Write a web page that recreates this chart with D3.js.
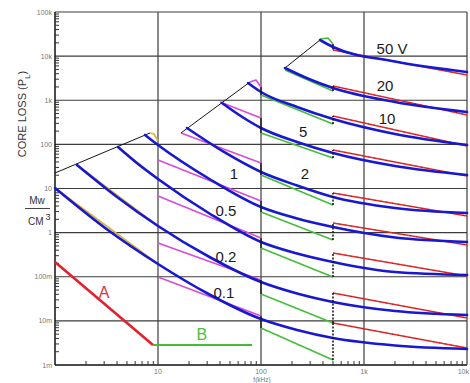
<!DOCTYPE html>
<html>
<head>
<meta charset="utf-8">
<script src="https://cdn.jsdelivr.net/npm/d3@7/dist/d3.min.js"></script>
<style>
  html, body { margin: 0; padding: 0; background: #fff; }
  svg { display: block; }
</style>
</head>
<body>
<div id="chart"></div>
<script>
// 坐标轴刻度
const yTickValues = [1e-3, 1e-2, 1e-1, 1, 10, 100, 1e3, 1e4, 1e5];
const yTickLabels = ["1m", "10m", "100m", "1", "10", "100", "1k", "10k", "100k"];
const xTickValues = [10, 100, 1000, 10000];
const xTickLabels = ["10", "100", "1k", "10k"];

// 电压 (顺序与下面各数组一致)
const voltages = ["0.1", "0.2", "0.5", "1", "2", "5", "10", "20", "50 V"];

// 计算曲线 (蓝色) [f kHz, P mW/cm3]
const blue01 = [[1, 10.26], [3.16, 1.208], [10, 0.1945], [31.6, 0.0396], [100, 0.0110], [224, 0.00621], [500, 0.00409], [2000, 0.00277], [10000, 0.00231]];
const blue02 = [[1.635, 34.09], [4.0, 6.419], [10, 1.413], [31.6, 0.2803], [100, 0.0760], [224, 0.0417], [500, 0.0268], [2000, 0.0167], [10000, 0.0136]];
const blue05 = [[4.09, 87.2], [6.32, 36.87], [10, 16.42], [31.6, 2.713], [100, 0.6131], [224, 0.3363], [500, 0.2159], [2000, 0.1281], [10000, 0.1096]];
const blue1 = [[7.48, 163.1], [10, 96.8], [31.6, 16.42], [100, 3.808], [224, 2.090], [500, 1.341], [2000, 0.7752], [10000, 0.6131]];
const blue2 = [[19.1, 235.0], [43.7, 67.2], [100, 23.65], [224, 11.70], [500, 6.419], [2000, 3.614], [10000, 2.785]];
const blue5 = [[41.8, 866.6], [64.7, 428.3], [100, 235.0], [224, 113.2], [500, 63.75], [2000, 32.35], [10000, 20.23]];
const blue10 = [[74.8, 2460], [100, 1538], [224, 703.1], [500, 375.9], [2000, 171.9], [10000, 96.8]];
const blue20 = [[171, 5383], [292, 3031], [500, 1895], [2000, 912.6], [10000, 541.7]];
const blue50 = [[374, 23200], [500, 16100], [2000, 7553], [10000, 4368]];
const blueCurves = [blue01, blue02, blue05, blue1, blue2, blue5, blue10, blue20, blue50];

// 实测数据: 1-10 kHz (黄), 10-100 kHz (品红), 100-500 kHz (绿), 500 kHz-10 MHz (红)
const yellowLines = [
    [[1, 10.26], [10, 0.1945]],
    [[1.635, 34.09], [10, 1.413]],
    [[4.09, 87.2], [10, 16.42]],
    [[8.36, 181.1], [9.15, 171.9], [10, 119.3]],
    null, null, null, null, null
];
const magentaLines = [
    [[10, 0.0987], [100, 0.0129]],
    [[10, 0.582], [100, 0.0844]],
    [[10, 6.761], [100, 0.7552]],
    [[10, 44.25], [100, 5.210]],
    [[16.7, 181.1], [100, 37.84]],
    [[40, 912.6], [100, 396.0]],
    [[78.2, 2592], [89.4, 2876], [100, 1997]],
    null, null
];
const greenLines = [
    [[100, 0.00689], [500, 0.00130]],
    [[100, 0.0406], [500, 0.00895]],
    [[100, 0.4482], [500, 0.0987]],
    [[100, 2.934], [500, 0.6808]],
    [[100, 20.23], [500, 4.228]],
    [[100, 181.1], [500, 49.12]],
    [[100, 1315], [500, 289.6]],
    [[171, 4849], [500, 1620]],
    [[374, 24440], [447, 25750], [500, 18830]]
];
const redLines = [
    [[500, 0.00895], [10000, 0.00243]],
    [[500, 0.0428], [10000, 0.0116]],
    [[500, 0.3452], [10000, 0.1040]],
    [[500, 1.652], [10000, 0.5242]],
    [[500, 7.907], [10000, 2.381]],
    [[500, 74.6], [10000, 19.20]],
    [[500, 439.7], [10000, 91.9]],
    [[500, 2103], [10000, 463.2]],
    [[500, 13770], [10000, 3735]]
];

// 最大损耗包络线
const envelopeLines = [
    [[1, 22.46], [8.36, 181.1]],
    [[16.7, 181.1], [78.2, 2592]],
    [[171, 5383], [374, 23200]]
];

// A / B 参考线
const lineA = [[1, 0.216], [8.94, 0.00284]];
const lineB = [[8.94, 0.00284], [81.8, 0.00284]];

// 曲线标注的锚点 [f, P]
const labelAnchors = [[43.7, 0.0451], [45.7, 0.288], [45.7, 3.256], [54.7, 21.5], [267, 21.5], [256, 190.8], [1672, 396], [1600, 2110], [1871, 15200]];
const letterLabels = ["A", "B"];
const letterAnchors = [[2.99, 0.0451], [26.7, 0.00504]];

const width = 470, height = 383;
const font = "'Liberation Sans', Arial, sans-serif";

const svg = d3.select('#chart')
    .append('svg')
    .attr('width', width)
    .attr('height', height);

svg.append('rect').attr('width', width).attr('height', height).attr('fill', '#fff');

const x = d3.scaleLog().domain([1, 10000]).range([55, 467]);
const y = d3.scaleLog().domain([1e-3, 1e5]).range([365, 12]);

const straight = d3.line().x(d => x(d[0])).y(d => y(d[1]));
const smooth = d3.line().x(d => x(d[0])).y(d => y(d[1])).curve(d3.curveMonotoneX);

// 网格线
const grid = svg.append('g');
yTickValues.forEach(v => {
    grid.append('line')
        .attr('x1', x(1)).attr('x2', x(10000))
        .attr('y1', y(v)).attr('y2', y(v))
        .attr('stroke', v === 1e-3 ? '#111' : '#3c3c3c')
        .attr('stroke-width', v === 1e-3 ? 1.5 : 1.2);
});
[1].concat(xTickValues).forEach(v => {
    grid.append('line')
        .attr('x1', x(v)).attr('x2', x(v))
        .attr('y1', y(1e5)).attr('y2', y(1e-3))
        .attr('stroke', v === 1 ? '#111' : '#3c3c3c')
        .attr('stroke-width', v === 1 ? 1.5 : 1.2);
});

// 次刻度
for (let e = -3; e < 5; e++) {
    for (let k = 2; k < 10; k++) {
        const v = k * Math.pow(10, e);
        grid.append('line')
            .attr('x1', x(1)).attr('x2', x(1) + 4)
            .attr('y1', y(v)).attr('y2', y(v))
            .attr('stroke', '#333').attr('stroke-width', 1);
    }
}
for (let e = 0; e < 4; e++) {
    for (let k = 2; k < 10; k++) {
        const v = k * Math.pow(10, e);
        grid.append('line')
            .attr('x1', x(v)).attr('x2', x(v))
            .attr('y1', y(1e-3)).attr('y2', y(1e-3) - 4)
            .attr('stroke', '#333').attr('stroke-width', 1);
    }
}

// 刻度标签
yTickValues.forEach((v, i) => {
    svg.append('text')
        .attr('x', 52).attr('y', y(v))
        .attr('text-anchor', 'end')
        .attr('dominant-baseline', 'central')
        .attr('font-family', font).attr('font-size', 7)
        .attr('fill', '#777')
        .text(yTickLabels[i]);
});
xTickValues.forEach((v, i) => {
    const last = i === xTickValues.length - 1;
    svg.append('text')
        .attr('x', last ? width - 1 : x(v)).attr('y', 371)
        .attr('text-anchor', last ? 'end' : 'middle')
        .attr('dominant-baseline', 'central')
        .attr('font-family', font).attr('font-size', 7)
        .attr('fill', '#777')
        .text(xTickLabels[i]);
});
svg.append('text')
    .attr('x', 262).attr('y', 382)
    .attr('text-anchor', 'middle')
    .attr('font-family', font).attr('font-size', 6.5)
    .attr('fill', '#777')
    .text('f(kHz)');

// Y 轴标题
const yTitle = svg.append('text')
    .attr('transform', 'translate(26,114) rotate(-90)')
    .attr('text-anchor', 'middle')
    .attr('font-family', font).attr('font-size', 11)
    .attr('fill', '#333');
yTitle.append('tspan').text('CORE LOSS (P');
yTitle.append('tspan').attr('font-size', 8).attr('dy', 4).text('L');
yTitle.append('tspan').attr('dy', -4).text(')');

svg.append('text')
    .attr('x', 37).attr('y', 204)
    .attr('text-anchor', 'middle')
    .attr('font-family', font).attr('font-size', 10)
    .attr('fill', '#333')
    .text('Mw');
svg.append('line')
    .attr('x1', 25).attr('x2', 50)
    .attr('y1', 208.5).attr('y2', 208.5)
    .attr('stroke', '#444').attr('stroke-width', 1);
const cm = svg.append('text')
    .attr('x', 28).attr('y', 225)
    .attr('font-family', font).attr('font-size', 10)
    .attr('fill', '#333');
cm.append('tspan').text('CM');
cm.append('tspan').attr('font-size', 9).attr('dx', 2).attr('dy', -5).text('3');

// 实测线
const plot = svg.append('g');
const drawSet = (set, color, w) => {
    set.forEach(pts => {
        if (!pts) return;
        plot.append('path')
            .attr('d', straight(pts))
            .attr('fill', 'none')
            .attr('stroke', color)
            .attr('stroke-width', w)
            .attr('stroke-linejoin', 'round');
    });
};
drawSet(yellowLines, '#d9b43a', 1.6);
drawSet(magentaLines, '#d94bd9', 1.6);
drawSet(greenLines, '#45bd3a', 1.6);
drawSet(redLines, '#e42a2a', 1.6);
redLines.forEach(pts => {
    plot.append('path')
        .attr('d', straight(pts))
        .attr('fill', 'none')
        .attr('stroke', '#5a1010')
        .attr('stroke-width', 1)
        .attr('stroke-dasharray', '1,5')
        .attr('opacity', 0.6);
});

// 包络线
envelopeLines.forEach(pts => {
    plot.append('path')
        .attr('d', straight(pts))
        .attr('fill', 'none')
        .attr('stroke', '#151515')
        .attr('stroke-width', 1);
});

// 蓝色计算曲线
blueCurves.forEach(pts => {
    plot.append('path')
        .attr('d', smooth(pts))
        .attr('fill', 'none')
        .attr('stroke', '#1818d0')
        .attr('stroke-width', 2.6)
        .attr('stroke-linecap', 'round');
});

// 100 kHz 处的连接线 (品红 -> 绿)
voltages.forEach((v, i) => {
    const m = magentaLines[i], g = greenLines[i];
    if (!m || !g || g[0][0] !== 100) return;
    plot.append('line')
        .attr('x1', x(100)).attr('x2', x(100))
        .attr('y1', y(m[m.length - 1][1])).attr('y2', y(g[0][1]))
        .attr('stroke', '#111').attr('stroke-width', 1.3);
});

// 500 kHz 处的虚线 (绿 -> 红)
voltages.forEach((v, i) => {
    const g = greenLines[i], r = redLines[i];
    plot.append('line')
        .attr('x1', x(500)).attr('x2', x(500))
        .attr('y1', y(g[g.length - 1][1])).attr('y2', y(r[0][1]))
        .attr('stroke', '#111').attr('stroke-width', 1.5)
        .attr('stroke-dasharray', '2,1.5');
});

// A、B 线
plot.append('path')
    .attr('d', straight(lineA))
    .attr('fill', 'none')
    .attr('stroke', '#e3202c')
    .attr('stroke-width', 2.6);
plot.append('path')
    .attr('d', straight(lineB))
    .attr('fill', 'none')
    .attr('stroke', '#44bb33')
    .attr('stroke-width', 2.2);

// 标注
voltages.forEach((v, i) => {
    svg.append('text')
        .attr('x', x(labelAnchors[i][0]))
        .attr('y', y(labelAnchors[i][1]))
        .attr('text-anchor', 'middle')
        .attr('dominant-baseline', 'central')
        .attr('font-family', font).attr('font-size', 15)
        .attr('fill', '#1a1a1a')
        .text(v);
});
letterLabels.forEach((t, i) => {
    svg.append('text')
        .attr('x', x(letterAnchors[i][0]))
        .attr('y', y(letterAnchors[i][1]))
        .attr('text-anchor', 'middle')
        .attr('dominant-baseline', 'central')
        .attr('font-family', font).attr('font-size', 16)
        .attr('fill', i === 0 ? '#e0304a' : '#4cc03c')
        .text(t);
});
</script>
</body>
</html>
